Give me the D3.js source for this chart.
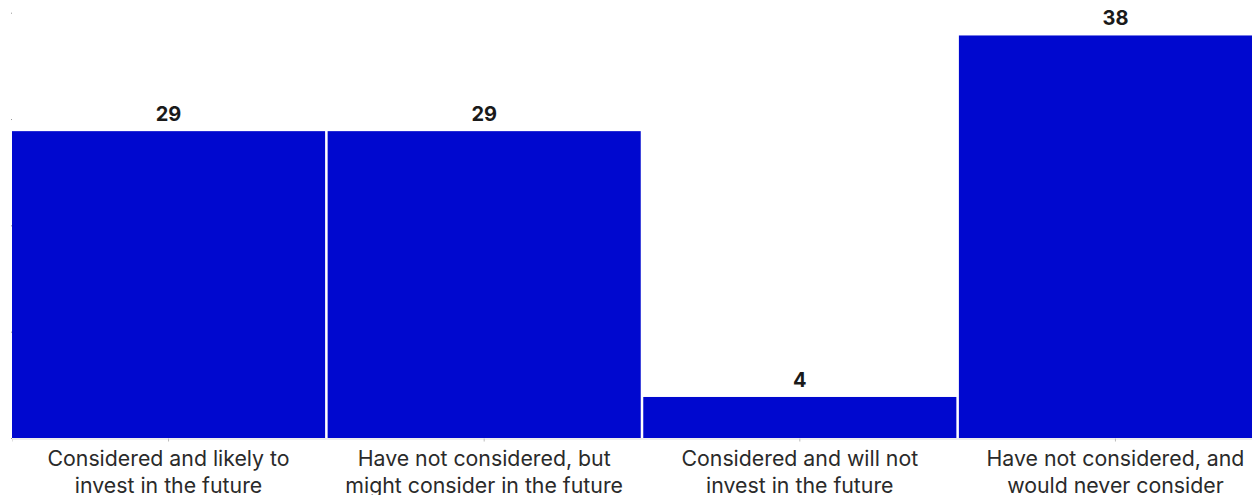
<!DOCTYPE html>
<html><head><meta charset="utf-8">
<script src="https://cdn.jsdelivr.net/npm/d3@7"></script>
<style>body{margin:0;background:#fff;overflow:hidden}svg{display:block}</style>
</head><body><svg id="c" width="1252" height="495"></svg>
<script>
const categories = [
  ["Considered and likely to", "invest in the future"],
  ["Have not considered, but", "might consider in the future"],
  ["Considered and will not", "invest in the future"],
  ["Have not considered, and", "would never consider"]
];
const values = [29, 29, 4, 38];
const yTicks = [0, 10, 20, 30, 40];

const svg = d3.select("#c");
const x = d3.scaleBand().domain(d3.range(categories.length)).range([12, 1272]).paddingInner(0.008).paddingOuter(0);
const y = d3.scaleLinear().domain([0, 40]).range([438, 12.7]);

// y ticks (tiny marks)
const ya = svg.append("g").attr("transform", "translate(12,0)")
  .call(d3.axisLeft(y).tickValues(yTicks).tickSize(1).tickFormat(""));
ya.select(".domain").remove();
ya.selectAll("line").attr("stroke", "#999");

// bars
svg.append("g").selectAll("rect").data(values).join("rect")
  .attr("x", (d, i) => x(i))
  .attr("y", d => y(d) + 1.5)
  .attr("width", x.bandwidth())
  .attr("height", d => y(0) - y(d) - 1.5)
  .attr("fill", "#0008cf");

// x axis
const xa = svg.append("g").attr("transform", "translate(0,438.5)")
  .call(d3.axisBottom(x).tickSize(3).tickFormat(""));
xa.select(".domain").attr("stroke", "#ddd");
xa.selectAll(".tick line").attr("stroke", "#bbb");

// category labels
svg.append("g").selectAll("text").data(categories).join("text")
  .attr("x", (d, i) => x(i) + x.bandwidth() / 2)
  .attr("y", 466)
  .attr("text-anchor", "middle")
  .attr("font-family", "Inter, 'Noto Sans', sans-serif")
  .attr("font-size", 21.3)
  .attr("fill", "#2a2a2a")
  .each(function(d) {
    const t = d3.select(this);
    d.forEach((line, k) => t.append("tspan").attr("x", t.attr("x")).attr("dy", k === 0 ? 0 : 27).text(line));
  });

// value labels
svg.append("g").selectAll("text").data(values).join("text")
  .attr("x", (d, i) => x(i) + x.bandwidth() / 2)
  .attr("y", d => y(d) - 8.7)
  .attr("text-anchor", "middle")
  .attr("font-family", "Inter, 'Noto Sans', sans-serif")
  .attr("font-weight", 700)
  .attr("font-size", 20)
  .attr("fill", "#1a1a1a")
  .text(d => d);
</script></body></html>
